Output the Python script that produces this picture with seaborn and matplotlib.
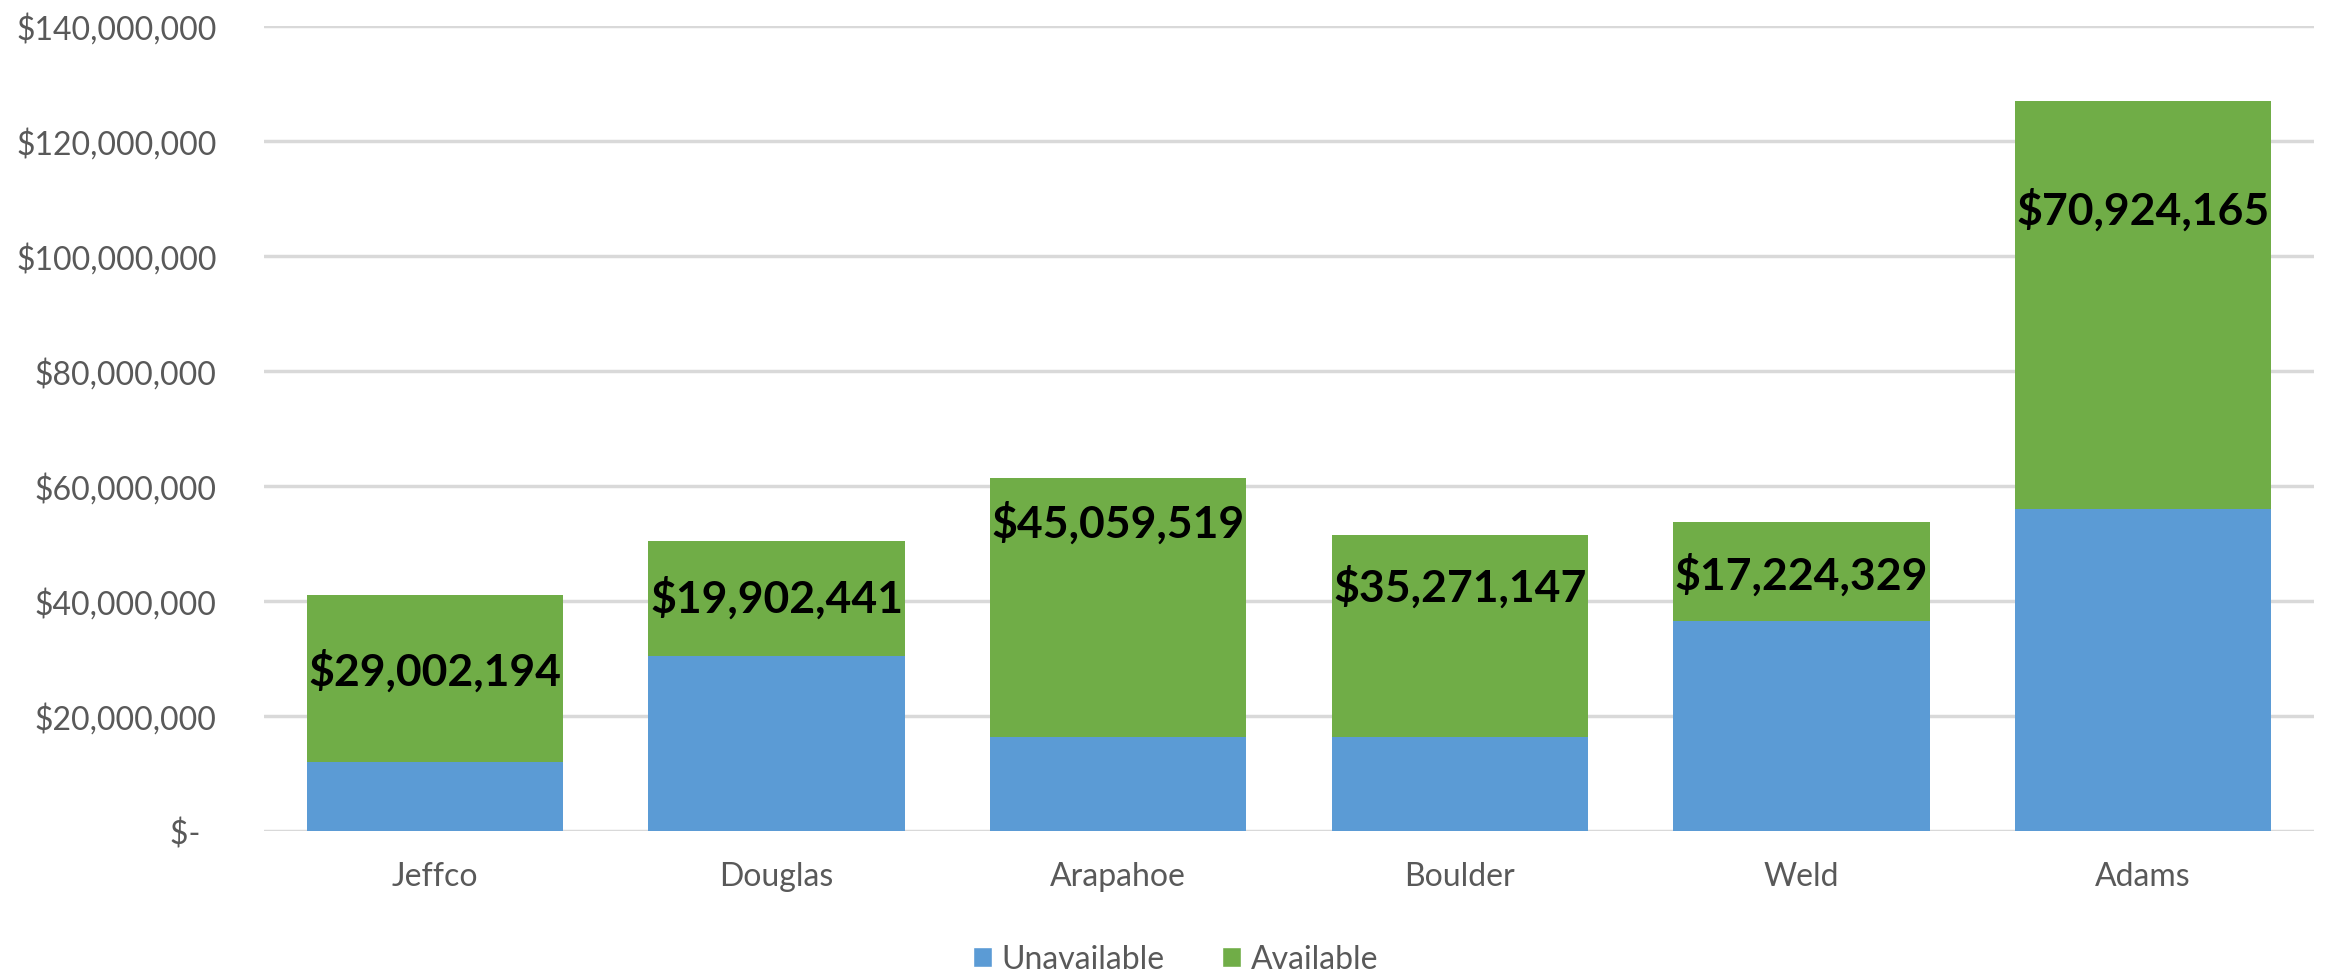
"""
Stacked bar chart: unavailable vs available dollars by county.
"""

import matplotlib.pyplot as plt
import pandas as pd
import seaborn as sns
from matplotlib.patches import Patch
from matplotlib.ticker import FuncFormatter

counties = ["Jeffco", "Douglas", "Arapahoe", "Boulder", "Weld", "Adams"]
unavailable = [11_950_000, 30_400_000, 16_200_000, 16_200_000, 36_500_000, 56_000_000]
available = [29_002_194, 19_902_441, 45_059_519, 35_271_147, 17_224_329, 70_924_165]
# where each data label sits on the value axis
label_y = [27_900_000, 40_600_000, 53_700_000, 42_600_000, 44_700_000, 108_200_000]
y_ticks = [0, 20_000_000, 40_000_000, 60_000_000, 80_000_000,
           100_000_000, 120_000_000, 140_000_000]

BLUE = "#5B9BD5"
GREEN = "#70AD47"
GREY_TEXT = "#595959"
GRID = "#D9D9D9"

sns.set_theme(style="white")
plt.rcParams["font.family"] = ["Lato", "DejaVu Sans"]

df = pd.DataFrame({
    "county": counties,
    "unavailable": unavailable,
    "available": available,
})
df["total"] = df["unavailable"] + df["available"]

fig = plt.figure(figsize=(23.28, 9.78), dpi=100)
ax = fig.add_axes([0.1134, 0.1497, 0.8806, 0.8230])

# stacked look: draw totals in green, then the unavailable part over them
sns.barplot(data=df, x="county", y="total", color=GREEN, width=0.75,
            saturation=1, linewidth=0, ax=ax, zorder=2)
sns.barplot(data=df, x="county", y="unavailable", color=BLUE, width=0.75,
            saturation=1, linewidth=0, ax=ax, zorder=3)

for i, (val, ypos) in enumerate(zip(available, label_y)):
    ax.text(i, ypos, f"${val:,.0f}", ha="center", va="center",
            fontsize=32, fontweight="bold", color="black", zorder=4)


def money(v, _pos):
    if v == 0:
        return "$-  "
    return f"${v:,.0f}"


ax.set_ylim(0, 140_000_000)
ax.set_xlim(-0.5, 5.5)
ax.set_yticks(y_ticks)
ax.yaxis.set_major_formatter(FuncFormatter(money))
ax.grid(axis="y", color=GRID, linewidth=2.5, zorder=0)
ax.set_axisbelow(True)
for side in ("top", "right", "left", "bottom"):
    ax.spines[side].set_visible(False)
ax.tick_params(axis="both", length=0, labelsize=23, labelcolor=GREY_TEXT)
ax.tick_params(axis="y", pad=34)
ax.tick_params(axis="x", pad=22)
ax.set_xlabel("")
ax.set_ylabel("")

handles = [Patch(facecolor=BLUE, label="Unavailable"),
           Patch(facecolor=GREEN, label="Available")]
fig.legend(handles=handles, loc="center", bbox_to_anchor=(0.505, 0.018),
           ncol=2, frameon=False, fontsize=23, labelcolor=GREY_TEXT,
           handlelength=0.6, handleheight=0.6, handletextpad=0.3,
           columnspacing=1.8)

fig.savefig("out.png", dpi=100)
plt.close(fig)
